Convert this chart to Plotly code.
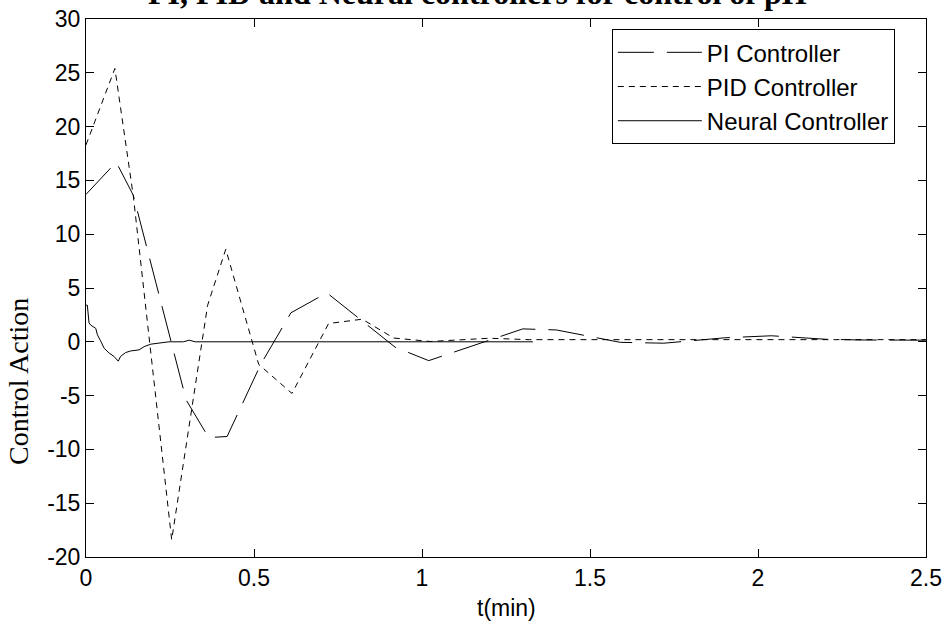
import plotly.graph_objects as go

# ---- data ----
pi_t = [0, 0.09, 0.141, 0.298, 0.365, 0.42, 0.52, 0.61, 0.717, 0.92, 1.02,
        1.30, 1.40, 1.59, 1.72, 1.90, 2.04, 2.20, 2.30, 2.5]
pi_u = [13.7, 16.7, 13.6, -5.4, -8.9, -8.8, -2.1, 2.7, 4.55, -0.5, -1.75,
        1.2, 1.1, -0.05, -0.13, 0.37, 0.56, 0.24, 0.17, 0.15]

pid_t = [0, 0.086, 0.141, 0.255, 0.362, 0.416, 0.514, 0.613, 0.722, 0.822,
         0.916, 1.025, 1.2, 1.32, 2.5]
pid_u = [18.3, 25.4, 13.5, -18.4, 3.4, 8.6, -2.1, -4.8, 1.7, 2.1,
         0.35, 0.03, 0.33, 0.2, 0.2]

nn_t = [0, 0.004, 0.009, 0.014, 0.029, 0.034, 0.044, 0.054, 0.069, 0.083,
        0.096, 0.103, 0.118, 0.133, 0.158, 0.173, 0.193, 0.223, 0.247, 0.29,
        0.307, 0.325, 1.33]
nn_u = [3.4, 3.4, 1.75, 1.55, 1.25, 0.65, 0.05, -0.6, -1.05, -1.35,
        -1.8, -1.35, -1.0, -0.85, -0.75, -0.45, -0.22, -0.07, 0, 0,
        0.15, 0, 0]

series_names = ["PI Controller", "PID Controller", "Neural Controller"]
x_ticks = [0, 0.5, 1, 1.5, 2, 2.5]
x_tick_text = ["0", "0.5", "1", "1.5", "2", "2.5"]
y_ticks = [-20, -15, -10, -5, 0, 5, 10, 15, 20, 25, 30]
y_tick_text = ["-20", "-15", "-10", "-5", "0", "5", "10", "15", "20", "25", "30"]

title_text = "PI, PID and Neural controllers for control of pH"
x_label = "t(min)"
y_label = "Control Action"

SANS = "Arial, 'Liberation Sans', sans-serif"
SERIF = "'Times New Roman', 'Liberation Serif', serif"

fig = go.Figure()
fig.add_trace(go.Scatter(x=pi_t, y=pi_u, mode="lines", name=series_names[0],
                         legendgroup="a",
                         line=dict(color="black", width=1, dash="36px,13px")))
fig.add_trace(go.Scatter(x=pid_t, y=pid_u, mode="lines", name=series_names[1],
                         legendgroup="b",
                         line=dict(color="black", width=1, dash="6px,5px")))
fig.add_trace(go.Scatter(x=nn_t, y=nn_u, mode="lines", name=series_names[2],
                         legendgroup="c",
                         line=dict(color="black", width=1)))

axis_common = dict(showgrid=False, zeroline=False, showline=True,
                   linecolor="black", linewidth=1, mirror="ticks",
                   ticks="inside", ticklen=8, tickcolor="black", tickwidth=1,
                   automargin=False,
                   tickfont=dict(family=SANS, size=23, color="black"))

fig.update_xaxes(range=[0, 2.5], tickvals=x_ticks, ticktext=x_tick_text,
                 **axis_common)
fig.update_yaxes(range=[-20, 30], tickvals=y_ticks, ticktext=y_tick_text,
                 **axis_common)

fig.update_layout(
    width=951, height=624,
    margin=dict(l=86, r=25, t=19, b=67, autoexpand=False),
    paper_bgcolor="white", plot_bgcolor="white",
    legend=dict(x=0.626, y=0.981, xanchor="left", yanchor="top",
                bordercolor="black", borderwidth=1, bgcolor="white",
                font=dict(family=SANS, size=24, color="black"),
                itemwidth=84, tracegroupgap=0),
    annotations=[
        dict(text="<b>" + title_text + "</b>", xref="paper", yref="paper",
             x=0.466, y=1.048, xanchor="center", yanchor="middle",
             showarrow=False, font=dict(family=SERIF, size=32, color="black")),
        dict(text=y_label, xref="paper", yref="paper", x=-0.081, y=0.327,
             xanchor="center", yanchor="middle", textangle=-90,
             showarrow=False, font=dict(family=SERIF, size=28, color="black")),
        dict(text=x_label, xref="paper", yref="paper", x=0.5, y=-0.095,
             xanchor="center", yanchor="middle", showarrow=False,
             font=dict(family=SANS, size=23, color="black")),
    ],
)

fig.write_html("out.html",
               config={"displayModeBar": False},
               post_script="document.body.style.margin='0';")
